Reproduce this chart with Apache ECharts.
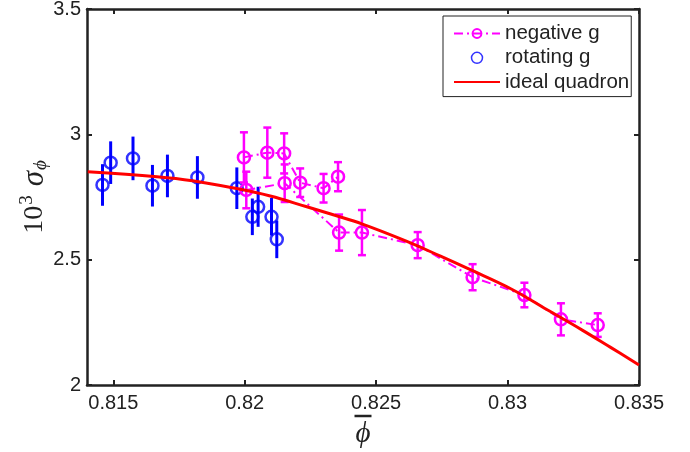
<!DOCTYPE html>
<html>
<head>
<meta charset="utf-8">
<script src="https://cdn.jsdelivr.net/npm/echarts@6/dist/echarts.min.js"></script>
<style>
html,body{margin:0;padding:0;background:#fff;}
#chart{width:690px;height:452px;}
</style>
</head>
<body>
<div id="chart"></div>
<script>
// ---- data ----
const xTicks = [0.815, 0.82, 0.825, 0.83, 0.835];
const yTicks = [2, 2.5, 3, 3.5];

// rotating g (blue)
const rotX   = [0.81459, 0.81490, 0.81575, 0.81649, 0.81706, 0.81820, 0.81970, 0.82029, 0.82051, 0.82102, 0.82122];
const rotY   = [2.798, 2.887, 2.904, 2.795, 2.834, 2.828, 2.785, 2.671, 2.711, 2.671, 2.581];
const rotErr = [0.083, 0.085, 0.087, 0.083, 0.085, 0.085, 0.083, 0.073, 0.080, 0.075, 0.075];

// negative g (magenta), run A
const negAX   = [0.81997, 0.82086, 0.82150, 0.82211, 0.82300, 0.82355];
const negAY   = [2.908, 2.927, 2.924, 2.807, 2.785, 2.831];
const negAErr = [0.100, 0.100, 0.080, 0.057, 0.057, 0.058];

// negative g (magenta), run B
const negBX   = [0.82006, 0.82152, 0.82359, 0.82446, 0.82658, 0.82867, 0.83064, 0.83203, 0.83343];
const negBY   = [2.778, 2.805, 2.608, 2.608, 2.558, 2.430, 2.359, 2.262, 2.239];
const negBErr = [0.073, 0.075, 0.072, 0.090, 0.052, 0.052, 0.049, 0.064, 0.047];

// ideal quadron (red curve)
const idealX = [0.81403, 0.81666, 0.81801, 0.81963, 0.82097, 0.82233, 0.82340, 0.82448, 0.82610, 0.82745, 0.82852, 0.83014, 0.83149, 0.83284, 0.83392, 0.83500];
const idealY = [2.851, 2.831, 2.815, 2.785, 2.754, 2.712, 2.678, 2.642, 2.576, 2.514, 2.463, 2.383, 2.301, 2.219, 2.150, 2.080];

// ---- build ----
const MAG = '#ff00ff', BLUE = '#0000ff', RED = '#ff0000', AX = '#222222';
const pairs = (xs, ys) => xs.map((x, i) => [x, ys[i]]);
const bars = (xs, ys, es) => xs.map((x, i) => [x, ys[i] - es[i], ys[i] + es[i]]);

function errRender(capW, lw, color) {
  return function (params, api) {
    const x = api.value(0), lo = api.value(1), hi = api.value(2);
    const p1 = api.coord([x, hi]), p2 = api.coord([x, lo]);
    const st = { stroke: color, lineWidth: lw };
    const ch = [{ type: 'line', shape: { x1: p1[0], y1: p1[1], x2: p2[0], y2: p2[1] }, style: st }];
    if (capW > 0) {
      ch.push({ type: 'line', shape: { x1: p1[0] - capW / 2, y1: p1[1], x2: p1[0] + capW / 2, y2: p1[1] }, style: st });
      ch.push({ type: 'line', shape: { x1: p2[0] - capW / 2, y1: p2[1], x2: p2[0] + capW / 2, y2: p2[1] }, style: st });
    }
    return { type: 'group', children: ch };
  };
}

const dashDot = [9, 4, 2, 4];
const fontSans = 'Liberation Sans, Arial, Helvetica, sans-serif';
const fontSerif = 'Liberation Serif, Times New Roman, serif';

function negLine(xs, ys) {
  return {
    name: 'negative g', type: 'line', data: pairs(xs, ys), z: 4,
    symbol: 'circle', symbolSize: 12,
    itemStyle: { color: 'rgba(255,0,255,0)', borderColor: MAG, borderWidth: 2.5 },
    lineStyle: { color: MAG, width: 2, type: dashDot },
    emphasis: { disabled: true }, animation: false
  };
}

const chart = echarts.init(document.getElementById('chart'), null, { renderer: 'canvas' });
const xAxisBase = {
  type: 'value', min: 0.814, max: 0.835,
  splitLine: { show: false },
  axisLine: { show: true, onZero: false, lineStyle: { color: AX, width: 2.5 } },
  axisTick: { show: true, inside: true, length: 5, customValues: xTicks, lineStyle: { color: AX, width: 2 } }
};
const yAxisBase = {
  type: 'value', min: 2, max: 3.5,
  splitLine: { show: false },
  axisLine: { show: true, onZero: false, lineStyle: { color: AX, width: 2.5 } },
  axisTick: { show: true, inside: true, length: 5, customValues: yTicks, lineStyle: { color: AX, width: 2 } }
};

chart.setOption({
  animation: false,
  backgroundColor: '#fff',
  grid: { left: 87, right: 51, top: 9, bottom: 67, containLabel: false, outerBoundsMode: 'none' },
  xAxis: [
    Object.assign({}, xAxisBase, {
      position: 'bottom',
      axisLabel: { show: true, customValues: xTicks, margin: 8, fontSize: 20, color: AX, fontFamily: fontSans,
        formatter: v => String(v) },
      name: '{bar|}\n{phi|ϕ}', nameLocation: 'middle', nameGap: 28, nameMoveOverlap: false,
      nameTextStyle: {
        rich: {
          bar: { width: 17, height: 2.5, backgroundColor: AX, lineHeight: 6, align: 'center' },
          phi: { fontFamily: fontSerif, fontStyle: 'italic', fontSize: 29, color: AX, lineHeight: 30, align: 'center' }
        }
      }
    }),
    Object.assign({}, xAxisBase, { position: 'top', axisLabel: { show: false } })
  ],
  yAxis: [
    Object.assign({}, yAxisBase, {
      position: 'left',
      axisLabel: { show: true, customValues: yTicks, margin: 6, fontSize: 20, color: AX, fontFamily: fontSans,
        formatter: v => String(v) },
      name: '{n|10}{sup|3}{s|σ}{sub|ϕ}', nameLocation: 'middle', nameRotate: 90, nameGap: 33, nameMoveOverlap: false,
      nameTextStyle: {
        rich: {
          n: { fontFamily: fontSerif, fontSize: 28, color: AX, lineHeight: 38, verticalAlign: 'middle' },
          sup: { fontFamily: fontSerif, fontSize: 19, color: AX, lineHeight: 38, verticalAlign: 'top', padding: [2, 0, 0, 1] },
          s: { fontFamily: fontSerif, fontStyle: 'italic', fontSize: 31, color: AX, lineHeight: 38, verticalAlign: 'middle', padding: [0, 0, 0, 9] },
          sub: { fontFamily: fontSerif, fontStyle: 'italic', fontSize: 19, color: AX, lineHeight: 38, verticalAlign: 'bottom', padding: [0, 0, 4, 1] }
        }
      }
    }),
    Object.assign({}, yAxisBase, { position: 'right', axisLabel: { show: false } })
  ],
  legend: {
    orient: 'vertical', left: 443, top: 16,
    data: [
      { name: 'negative g' },
      { name: 'rotating g', itemStyle: { borderWidth: 1.5 } },
      { name: 'ideal quadron', itemStyle: { opacity: 0 } }
    ],
    itemWidth: 46, itemHeight: 11, itemGap: 3.3,
    padding: [7, 2, 4, 10],
    borderColor: '#222', borderWidth: 1, backgroundColor: '#fff',
    textStyle: { fontSize: 20.5, color: AX, fontFamily: fontSans },
    selectedMode: false
  },
  series: [
    { name: 'rot err', type: 'custom', renderItem: errRender(0, 3, BLUE), data: bars(rotX, rotY, rotErr), z: 2, silent: true },
    {
      name: 'rotating g', type: 'scatter', data: pairs(rotX, rotY), z: 3,
      symbol: 'circle', symbolSize: 12,
      itemStyle: { color: 'rgba(0,0,255,0)', borderColor: BLUE, borderWidth: 2.5 },
      emphasis: { disabled: true }
    },
    { name: 'neg err A', type: 'custom', renderItem: errRender(8, 2.5, MAG), data: bars(negAX, negAY, negAErr), z: 4, silent: true },
    { name: 'neg err B', type: 'custom', renderItem: errRender(8, 2.5, MAG), data: bars(negBX, negBY, negBErr), z: 4, silent: true },
    negLine(negAX, negAY),
    negLine(negBX, negBY),
    {
      name: 'ideal quadron', type: 'line', data: pairs(idealX, idealY), z: 6,
      smooth: 0.4, symbol: 'none', showSymbol: false,
      lineStyle: { color: RED, width: 3 }, itemStyle: { color: RED },
      emphasis: { disabled: true }
    }
  ]
});
</script>
</body>
</html>
